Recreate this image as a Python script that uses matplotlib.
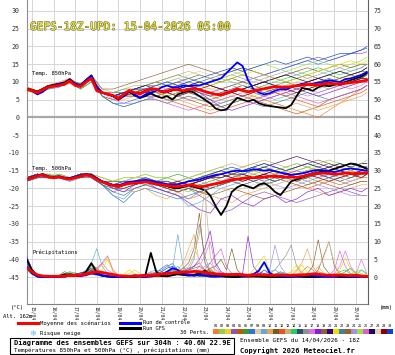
import matplotlib
matplotlib.use("Agg")
import matplotlib.pyplot as plt
import matplotlib.patheffects as pe
from matplotlib import font_manager
from matplotlib.lines import Line2D
from matplotlib.patches import Rectangle

# time axis: run 14/04 18Z, hours since start
hours_6h = list(range(0, 379, 6))
hours_12h = list(range(0, 373, 12)) + [378]
day_hours = [6 + 24 * k for k in range(16)]
day_labels = ["%02d/04" % d for d in range(15, 31)]

member_colors = ['#f08030', '#90d050', '#f0d020', '#9050c0', '#c05a00', '#3a9a30',
                 '#3070e0', '#e0c8a0', '#60a8e0', '#f0a050', '#706020', '#f05020',
                 '#c8b070', '#20d060', '#305070', '#909090', '#e070e0', '#8020e0',
                 '#906030', '#300080', '#e8e000', '#4080a0', '#a06020', '#a090f0',
                 '#a0e040', '#e060c0', '#200060', '#e0d0b0', '#900000', '#1040d0']

# ---- temperature 850 hPa (degC) ----
t850_mean = [8.0, 7.6, 7.0, 7.8, 8.6, 8.8, 9.0, 9.4, 10.3, 9.0, 8.7, 10.0, 11.0, 7.5, 7.0, 6.6,
             6.2, 5.3, 6.5, 7.6, 7.0, 6.6, 7.5, 8.0, 8.0, 7.2, 7.4, 7.9, 7.8, 7.5, 7.9, 8.2,
             7.8, 7.3, 6.9, 6.5, 6.4, 6.9, 7.4, 8.0, 7.6, 7.2, 7.5, 7.8, 8.1, 8.4, 8.7, 8.6,
             8.5, 8.7, 8.9, 9.1, 9.3, 9.2, 9.2, 9.4, 9.6, 9.5, 9.4, 9.6, 9.8, 10.0, 10.2, 10.5]
t850_control = [8.0, 7.5, 6.5, 7.2, 8.5, 9.0, 9.5, 9.2, 10.5, 9.5, 9.0, 10.5, 11.8, 8.5, 7.0, 6.5,
                6.0, 5.0, 6.0, 7.5, 6.5, 5.5, 6.5, 7.0, 7.5, 8.5, 9.0, 8.5, 8.5, 9.0, 8.8, 9.0,
                9.0, 9.5, 10.0, 10.5, 11.0, 12.5, 14.0, 15.5, 14.5, 10.5, 8.0, 7.0, 6.5, 6.8, 7.5, 8.0,
                7.8, 8.5, 9.0, 9.5, 9.2, 9.5, 9.8, 10.0, 10.5, 10.2, 10.0, 10.8, 11.0, 11.5, 12.0, 12.8]
t850_gfs = [8.0, 7.8, 7.2, 8.0, 8.8, 9.2, 9.5, 9.8, 10.8, 9.4, 9.0, 10.5, 11.8, 8.2, 7.0, 6.5,
            6.0, 5.0, 6.0, 7.2, 6.2, 5.5, 6.0, 6.8, 6.0, 5.5, 6.0, 5.0, 6.5, 7.0, 7.5, 7.0,
            6.0, 5.0, 4.0, 2.5, 2.0, 2.2, 4.0, 5.5, 5.0, 4.5, 5.0, 4.0, 3.5, 3.2, 3.0, 2.8,
            2.6, 3.5, 6.0, 8.3, 8.0, 7.5, 8.5, 9.0, 8.8, 9.2, 9.5, 10.0, 10.5, 11.0, 11.5, 12.5]
t850_members = [
    [8, 7, 9, 9, 10, 9, 11, 7, 6, 6, 7, 8, 7, 7, 8, 8, 7, 6, 5, 6, 7, 6, 5, 4, 3, 2, 1, 0, 2, 4, 6, 8, 9],
    [8.5, 7.5, 8.5, 9.5, 10.5, 9, 11.5, 8, 7, 7, 8, 9, 9, 8, 9, 10, 9, 8, 8, 9, 10, 9, 10, 11, 12, 11, 12, 13, 12, 13, 14, 15, 15],
    [7.5, 6.5, 9, 9, 10, 8, 10, 6, 5, 5, 6, 6, 6, 5, 5, 6, 5, 4, 3, 4, 5, 6, 7, 8, 9, 10, 11, 10, 9, 10, 11, 12, 12],
    [8, 7, 9, 9.5, 11, 9, 11.5, 7, 6, 7, 7, 8, 8, 9, 10, 9, 8, 7, 8, 9, 10, 11, 12, 13, 14, 15, 16, 17, 16, 17, 18, 18, 18.5],
    [8, 6.5, 8, 9, 10, 8, 11, 6, 5, 6, 7, 7, 8, 7, 6, 5, 4, 3, 4, 5, 6, 5, 4, 3, 2, 1, 2, 3, 5, 6, 7, 8, 9],
    [8.5, 7, 9, 9, 10.5, 9, 11, 7, 7, 8, 8, 9, 10, 11, 12, 11, 10, 9, 10, 11, 12, 11, 10, 9, 10, 11, 12, 11, 10, 11, 12, 13, 13],
    [8, 7.5, 8, 8.5, 10, 9.5, 11, 6, 4, 4, 5, 6, 6, 7, 8, 9, 10, 11, 12, 13, 14, 13, 12, 13, 14, 15, 16, 15, 16, 17, 18, 19, 19.5],
    [7.5, 7, 9, 9, 10, 9, 10.5, 7, 6, 7, 8, 8, 9, 8, 7, 8, 9, 8, 7, 6, 7, 8, 9, 8, 7, 8, 9, 10, 9, 8, 9, 10, 11],
    [8, 6.5, 8.5, 9, 10, 8, 10, 6, 4, 3, 4, 5, 6, 5, 6, 7, 6, 5, 4, 5, 6, 7, 6, 5, 6, 7, 8, 7, 8, 9, 10, 11, 11],
    [8, 7, 9, 10, 11, 9, 11, 7, 6, 7, 7, 8, 7, 6, 5, 4, 3, 2, 3, 4, 5, 6, 5, 4, 3, 4, 3, 2, 3, 4, 5, 6, 7],
    [8, 7.5, 9, 9, 10, 9.5, 11, 7, 7, 7, 8, 9, 10, 9, 10, 11, 12, 11, 10, 11, 10, 9, 10, 11, 10, 9, 10, 11, 12, 11, 12, 13, 14],
    [8, 7, 9, 9, 9.5, 9, 11, 7, 6, 6, 7, 7, 6, 5, 4, 3, 2, 1, 2, 3, 4, 5, 6, 7, 6, 5, 4, 3, 4, 5, 6, 7, 8],
    [8, 7, 9, 9.5, 10, 9, 11, 7, 7, 8, 9, 9, 10, 11, 12, 13, 12, 11, 12, 13, 12, 11, 10, 11, 12, 13, 12, 11, 12, 13, 12, 13, 14],
    [8, 7, 8, 9, 10, 8, 10, 7, 6, 6, 7, 8, 9, 10, 9, 8, 9, 10, 11, 10, 9, 8, 9, 10, 11, 12, 13, 14, 13, 12, 13, 14, 15],
    [8, 7, 9, 9, 10, 9, 11, 7, 6, 6, 6, 7, 7, 6, 7, 8, 7, 6, 7, 8, 9, 8, 7, 8, 9, 8, 9, 10, 11, 10, 11, 12, 12],
    [8.5, 7, 9, 9, 10, 9, 11, 7, 6, 7, 8, 8, 8, 9, 10, 11, 10, 9, 8, 9, 8, 7, 6, 7, 8, 9, 10, 9, 8, 9, 10, 11, 11],
    [8, 7, 9, 9, 10, 9, 11, 7, 5, 4, 4, 5, 6, 7, 6, 5, 6, 7, 8, 7, 6, 5, 6, 7, 8, 7, 6, 7, 8, 9, 8, 9, 10],
    [8, 7, 9, 9, 10, 9, 11, 7, 6, 6, 7, 7, 7, 8, 9, 8, 7, 5, 3, 2, 3, 4, 5, 6, 7, 8, 7, 6, 7, 8, 9, 10, 10],
    [8.5, 7.5, 9, 9.5, 10.5, 9.5, 12, 8, 8, 9, 10, 11, 12, 13, 14, 15, 14, 13, 12, 13, 14, 13, 12, 11, 12, 13, 14, 13, 14, 15, 14, 15, 15],
    [8, 7, 9, 9, 10, 9, 11, 7, 6, 7, 7, 7, 8, 7, 8, 9, 8, 7, 6, 7, 8, 9, 10, 9, 8, 9, 10, 11, 10, 9, 10, 11, 12],
    [8, 7, 9, 9, 10, 9, 11, 7, 6, 6, 7, 8, 8, 9, 8, 7, 8, 9, 10, 11, 12, 13, 12, 11, 10, 11, 12, 13, 14, 15, 16, 15, 16],
    [7.5, 7, 9, 9, 10, 9, 11, 6, 4, 3, 4, 5, 5, 4, 5, 6, 5, 4, 3, 4, 5, 4, 3, 4, 5, 6, 7, 6, 5, 6, 7, 8, 9],
    [8, 7, 9, 9, 10, 9, 11, 7, 6, 7, 8, 7, 6, 7, 8, 7, 6, 5, 6, 7, 8, 9, 8, 7, 6, 7, 8, 9, 10, 11, 12, 11, 12],
    [8, 7, 9, 9, 10, 9, 11, 7, 7, 7, 8, 9, 9, 10, 11, 10, 9, 10, 11, 12, 11, 10, 11, 12, 13, 12, 11, 12, 13, 14, 13, 14, 15],
    [8, 7, 9, 9, 10, 9, 11, 7, 6, 6, 7, 8, 7, 6, 7, 8, 9, 10, 11, 12, 13, 14, 15, 14, 13, 14, 15, 16, 15, 14, 15, 16, 17],
    [8, 7, 9, 9, 10, 9, 11, 7, 6, 6, 6, 6, 5, 4, 3, 2, 3, 4, 5, 6, 5, 4, 5, 6, 7, 6, 5, 4, 5, 6, 7, 8, 9],
    [8, 7, 9, 9, 10, 9, 11, 7, 6, 7, 8, 9, 8, 7, 8, 9, 10, 9, 8, 7, 8, 9, 10, 11, 12, 11, 10, 11, 12, 13, 12, 13, 14],
    [8, 7, 9, 9, 10, 9, 11, 7, 6, 6, 7, 8, 9, 10, 11, 12, 13, 12, 11, 10, 9, 10, 11, 10, 9, 10, 9, 8, 9, 10, 11, 12, 12],
    [8, 7, 9, 9, 10, 9, 11, 7, 6, 6, 7, 8, 8, 7, 6, 7, 8, 9, 8, 7, 6, 7, 8, 9, 8, 7, 8, 9, 10, 9, 10, 11, 11],
    [8, 7, 9, 9, 10, 9, 11, 7, 6, 7, 8, 8, 9, 10, 9, 10, 11, 12, 13, 14, 13, 14, 15, 16, 15, 16, 17, 16, 17, 18, 18, 19, 20],
]

# ---- temperature 500 hPa (degC) ----
t500_mean = [-17.5, -17.0, -16.5, -16.2, -16.8, -17.0, -16.8, -17.2, -17.4, -17.0, -16.6, -16.2, -16.6, -17.5, -18.2, -18.8,
             -19.2, -19.4, -19.0, -18.6, -18.5, -18.4, -18.2, -18.4, -18.8, -19.0, -19.2, -19.4, -19.5, -19.3, -19.0, -19.2,
             -19.6, -19.4, -19.0, -18.7, -18.4, -18.0, -17.6, -17.4, -17.2, -17.0, -17.0, -16.9, -16.8, -16.6, -16.6, -16.7,
             -16.8, -16.8, -16.9, -16.7, -16.3, -16.0, -15.8, -15.7, -15.8, -16.0, -15.9, -15.7, -15.8, -15.9, -15.7, -15.6]
t500_control = [-17.5, -17.0, -16.4, -16.0, -16.6, -17.0, -16.6, -17.0, -17.2, -16.8, -16.4, -16.0, -16.4, -17.2, -18.0, -18.5,
                -19.0, -19.2, -18.6, -18.2, -18.0, -17.8, -17.6, -17.8, -18.2, -18.5, -18.8, -19.0, -18.8, -18.5, -18.0, -17.8,
                -17.5, -17.0, -16.6, -16.2, -16.0, -15.6, -15.2, -15.0, -15.2, -15.0, -14.6, -14.8, -15.0, -14.8, -15.2, -15.6,
                -15.8, -16.2, -16.0, -15.8, -15.4, -15.0, -14.8, -15.0, -15.2, -15.4, -15.0, -14.6, -14.4, -14.6, -14.8, -15.0]
t500_gfs = [-17.5, -16.8, -16.4, -16.0, -16.6, -16.8, -16.6, -17.0, -17.2, -16.8, -16.4, -16.0, -16.4, -17.4, -18.2, -18.8,
            -19.2, -19.6, -19.0, -18.4, -18.2, -18.0, -17.8, -18.2, -18.6, -19.0, -19.4, -19.8, -20.0, -19.6, -19.2, -19.6,
            -20.0, -20.5, -22.0, -25.0, -27.5, -25.0, -21.0, -19.7, -19.0, -19.5, -20.0, -19.0, -18.5, -19.5, -21.0, -21.9,
            -20.0, -18.0, -17.5, -17.0, -16.5, -16.0, -15.5, -15.2, -15.0, -14.5, -14.0, -13.5, -13.0, -13.2, -13.8, -14.5]
t500_members = [
    [-17, -16, -17, -17, -17, -16, -16, -18, -19, -18, -18, -17, -18, -19, -21, -23, -22, -20, -19, -18, -17, -16, -17, -18, -17, -16, -17, -18, -17, -16, -15, -16, -16],
    [-17, -16, -17, -17, -17, -17, -16, -17, -18, -17, -17, -16, -17, -17, -18, -17, -16, -15, -14, -15, -14, -13, -14, -15, -14, -13, -14, -13, -12, -13, -14, -13, -13],
    [-18, -17, -17, -16, -17, -16, -17, -18, -19, -19, -18, -18, -19, -20, -19, -18, -19, -18, -17, -16, -17, -18, -17, -16, -17, -18, -17, -16, -15, -16, -17, -16, -15],
    [-17, -16, -17, -17, -18, -17, -16, -19, -21, -20, -19, -18, -19, -20, -21, -20, -22, -24, -27, -26, -24, -22, -21, -22, -23, -24, -23, -22, -21, -20, -21, -22, -22],
    [-18, -17, -16, -17, -17, -16, -16, -18, -19, -19, -18, -19, -20, -21, -20, -19, -18, -17, -18, -17, -16, -17, -18, -17, -16, -17, -18, -19, -18, -17, -16, -17, -16],
    [-17, -16, -17, -16, -17, -16, -16, -18, -20, -19, -18, -17, -18, -17, -16, -17, -18, -17, -16, -15, -16, -15, -14, -15, -16, -15, -14, -15, -14, -13, -14, -15, -14],
    [-17, -17, -17, -17, -17, -16, -17, -19, -22, -24, -21, -20, -21, -22, -23, -22, -21, -20, -19, -18, -17, -18, -17, -16, -17, -16, -15, -16, -17, -16, -15, -16, -15],
    [-17, -16, -17, -17, -17, -16, -16, -18, -19, -18, -18, -18, -19, -19, -20, -19, -18, -17, -16, -15, -14, -15, -16, -15, -16, -17, -16, -15, -16, -15, -14, -15, -15],
    [-18, -17, -17, -17, -18, -17, -16, -19, -22, -23, -20, -19, -20, -21, -22, -25, -24, -22, -20, -19, -18, -17, -18, -17, -18, -17, -18, -17, -16, -17, -18, -17, -17],
    [-17, -16, -17, -17, -17, -16, -17, -18, -19, -20, -21, -20, -22, -23, -21, -20, -21, -22, -23, -24, -22, -21, -20, -19, -18, -19, -20, -21, -22, -21, -20, -19, -19],
    [-17, -16, -17, -17, -17, -16, -16, -18, -18, -18, -17, -17, -18, -18, -19, -18, -17, -16, -15, -16, -15, -14, -15, -16, -15, -14, -13, -14, -13, -14, -15, -14, -14],
    [-18, -17, -17, -17, -17, -17, -16, -18, -19, -19, -19, -18, -18, -19, -18, -19, -20, -19, -18, -17, -18, -17, -16, -17, -18, -19, -20, -19, -18, -19, -18, -17, -17],
    [-17, -16, -17, -17, -17, -16, -16, -17, -18, -18, -17, -17, -18, -19, -18, -17, -16, -15, -14, -13, -14, -13, -12, -13, -14, -13, -14, -15, -14, -13, -14, -13, -13],
    [-17, -16, -16, -17, -17, -16, -16, -18, -19, -18, -18, -17, -18, -19, -20, -21, -19, -18, -17, -16, -17, -16, -17, -18, -17, -16, -15, -16, -15, -16, -15, -14, -14],
    [-18, -17, -17, -17, -17, -17, -17, -19, -20, -20, -19, -18, -19, -20, -21, -20, -19, -20, -19, -18, -19, -18, -17, -18, -17, -18, -17, -16, -17, -18, -17, -16, -16],
    [-17, -16, -17, -16, -17, -16, -16, -18, -20, -21, -20, -19, -20, -21, -22, -23, -21, -20, -19, -18, -19, -20, -19, -18, -17, -18, -19, -18, -17, -18, -19, -18, -18],
    [-17, -16, -17, -17, -17, -16, -16, -18, -19, -18, -18, -18, -19, -18, -19, -18, -17, -16, -17, -16, -15, -16, -15, -14, -15, -16, -15, -14, -15, -14, -15, -14, -14],
    [-17, -16, -17, -17, -17, -16, -17, -18, -20, -21, -19, -18, -20, -21, -22, -24, -26, -27, -23, -22, -24, -25, -23, -22, -24, -23, -21, -20, -22, -21, -20, -21, -20],
    [-17, -16, -17, -17, -17, -16, -16, -18, -18, -18, -18, -17, -18, -18, -19, -18, -17, -16, -15, -16, -15, -14, -13, -14, -15, -14, -13, -12, -13, -14, -13, -14, -14],
    [-17, -16, -17, -17, -17, -16, -16, -18, -19, -19, -18, -18, -19, -19, -20, -19, -18, -17, -16, -17, -16, -15, -14, -13, -12, -11, -12, -13, -14, -13, -14, -13, -13],
    [-17, -16, -17, -17, -17, -16, -16, -18, -19, -19, -18, -17, -18, -18, -19, -18, -17, -16, -17, -16, -17, -16, -15, -16, -15, -16, -15, -14, -15, -16, -15, -16, -15],
    [-18, -17, -17, -17, -17, -16, -17, -19, -21, -22, -20, -19, -19, -20, -19, -20, -21, -20, -19, -18, -17, -18, -19, -18, -17, -18, -17, -16, -17, -16, -17, -16, -16],
    [-17, -16, -17, -17, -17, -16, -16, -18, -19, -19, -18, -18, -19, -20, -21, -20, -21, -22, -21, -20, -21, -22, -23, -22, -21, -20, -19, -18, -19, -20, -19, -18, -18],
    [-17, -16, -17, -17, -17, -16, -16, -18, -19, -19, -18, -17, -18, -19, -18, -17, -18, -19, -18, -17, -18, -17, -18, -19, -20, -19, -18, -19, -20, -21, -22, -22, -22],
    [-17, -16, -16, -16, -17, -16, -16, -17, -18, -17, -17, -16, -17, -17, -18, -17, -16, -17, -18, -17, -16, -15, -16, -15, -14, -15, -14, -15, -16, -15, -14, -13, -12],
    [-17, -16, -17, -17, -17, -16, -16, -18, -19, -18, -18, -18, -19, -19, -18, -19, -18, -17, -18, -17, -16, -17, -16, -15, -16, -15, -16, -17, -16, -15, -16, -15, -15],
    [-17, -16, -17, -17, -17, -16, -16, -18, -19, -19, -18, -18, -19, -19, -20, -19, -18, -17, -17, -16, -16, -17, -16, -15, -16, -17, -16, -15, -14, -15, -16, -15, -15],
    [-17, -16, -17, -17, -17, -16, -17, -18, -19, -18, -17, -17, -18, -19, -20, -21, -20, -19, -20, -21, -20, -19, -18, -19, -18, -17, -18, -19, -18, -17, -18, -17, -17],
    [-17, -16, -17, -17, -17, -16, -16, -18, -19, -19, -18, -18, -18, -19, -18, -19, -18, -17, -16, -17, -18, -17, -16, -17, -16, -17, -16, -17, -18, -17, -16, -17, -16],
    [-17, -16, -17, -17, -17, -16, -16, -18, -19, -18, -18, -17, -18, -18, -19, -18, -17, -16, -15, -14, -15, -14, -13, -14, -15, -14, -13, -14, -15, -14, -13, -14, -14],
]

# ---- precipitation (mm) ----
precip_mean = [2.5, 1.5, 0.6, 0.3, 0.2, 0.2, 0.2, 0.3, 0.5, 0.4, 0.6, 0.9, 1.2, 1.5, 1.3, 1.0,
               0.7, 0.4, 0.3, 0.2, 0.3, 0.4, 0.4, 0.5, 0.7, 0.9, 1.0, 1.2, 1.3, 1.4, 1.4, 1.6,
               1.5, 1.3, 1.0, 0.9, 0.8, 0.7, 0.7, 0.8, 0.6, 0.5, 0.6, 0.7, 0.6, 0.5, 0.5, 0.6,
               0.5, 0.5, 0.6, 0.6, 0.7, 0.9, 0.8, 0.6, 0.5, 0.5, 0.6, 0.5, 0.4, 0.5, 0.3, 0.2]
precip_control = [3.0, 1.0, 0.2, 0, 0, 0, 0, 0.3, 0.8, 0.5, 0.3, 0.6, 1.0, 0.8, 0.4, 0.2,
                  0.1, 0, 0, 0.2, 0.5, 0.2, 0, 0.3, 0.5, 0.8, 1.5, 2.5, 2.0, 1.0, 0.5, 0.4,
                  0.6, 0.4, 0.2, 0.1, 0.3, 0.5, 0.8, 0.6, 0.3, 0.5, 0.8, 1.8, 4.2, 1.2, 0.3, 0.2,
                  0.1, 0.2, 0.3, 0.4, 0.5, 0.3, 0.2, 0.1, 0.1, 0.2, 0.4, 0.2, 0.1, 0.1, 0.2, 0.1]
precip_gfs = [5.0, 2.0, 0.3, 0, 0, 0, 0.2, 0.8, 0.6, 0.3, 0.4, 1.5, 3.9, 1.2, 0.4, 0.2,
              0, 0, 0, 0, 0, 0.3, 0.6, 6.8, 1.5, 0.3, 0.2, 0.5, 0.8, 0.6, 0.4, 0.6,
              1.0, 1.8, 0.6, 0.3, 0.2, 0.1, 0, 0, 0.2, 0.4, 0.3, 0.2, 0.1, 0, 0, 0,
              0, 0.1, 0.2, 0.1, 0, 0, 0.1, 0.3, 0.5, 0.2, 0.1, 0, 0, 0.1, 0.2, 0.1]
precip_members = [
    [4, 1, 0, 0, 0, 0, 0, 0, 0.5, 0.3, 0, 0.5, 1.5, 0.8, 0.3, 0, 0, 0, 0, 0, 0, 0, 0.5, 1, 0.5, 0.3, 0.8, 1.2, 2, 1, 0.5, 0.3, 0.5, 1, 2.5, 1, 0.3, 0, 0, 0, 0, 0, 0.3, 0.5, 0.2, 0, 0, 0, 0, 0, 0.5, 1.5, 3, 2, 0.5, 0.3, 0.5, 1, 0.6, 0.3, 0, 0, 0, 0],
    [3, 1.5, 0.2, 0, 0, 0, 0, 0.5, 1, 0.5, 0.2, 1, 3, 1.5, 0.5, 0, 0, 0, 0, 0, 0.2, 0.5, 0.3, 0, 0.3, 1, 1.5, 2, 1.5, 0.8, 0.5, 0.3, 0.2, 0.5, 1, 0.5, 0, 0, 0, 0.3, 0.6, 0.3, 0, 0, 0, 0, 0.5, 0.8, 0.5, 0.3, 0, 0, 0, 0, 0, 0, 0, 0, 0, 0.3, 0.8, 1.5, 2, 1],
    [2, 0.8, 0, 0, 0, 0, 0, 0, 0.3, 0.2, 0, 0.4, 1, 2, 3.5, 5.5, 1.5, 0.5, 0.5, 1, 2, 1, 0.3, 0, 0, 0, 0.2, 0.5, 0.8, 1.5, 2.5, 1.5, 0.5, 0.2, 0, 0, 0, 0, 0, 0, 0, 0, 0, 0, 0.5, 1, 0.5, 0, 0, 0.5, 1.5, 3.5, 1.2, 0.3, 0, 0, 0, 0.2, 0.5, 1, 0.5, 0, 0, 0],
    [5, 2, 0.3, 0, 0, 0, 0, 0, 0.4, 0.8, 0.5, 0.3, 1, 0.8, 0.4, 0.2, 0, 0, 0, 0, 0, 0.3, 0.8, 1.2, 1, 0.5, 0.3, 0.6, 1, 1.8, 2.5, 3, 4, 2, 1, 0.5, 0.3, 0.2, 0, 0, 0, 0.3, 0.5, 0.3, 0, 0, 0, 0, 0.2, 0.4, 0.3, 0, 0, 0, 0.3, 0.6, 0.3, 0, 0, 0, 0, 0, 0, 0],
    [3.5, 1.2, 0.2, 0, 0, 0, 0, 0.2, 0.8, 1.2, 0.5, 1.5, 2.5, 1.2, 0.5, 0.2, 0, 0, 0, 0, 0, 0, 0.2, 0.5, 0.8, 0.6, 0.5, 1, 1.5, 1, 0.5, 0.5, 1, 1.5, 2, 1, 0.5, 0.2, 0, 0, 0.2, 0.5, 0.8, 0.5, 0.2, 0, 0, 0, 0, 0, 0.3, 0.5, 0.8, 0.5, 0.3, 0, 0, 0, 0, 0, 0.2, 0.5, 0.3, 0],
    [2.5, 1, 0.2, 0, 0, 0, 0, 0.5, 1.5, 1, 0.5, 1, 3.5, 2.5, 1, 0.3, 0, 0, 0, 0, 0, 0, 0, 0.3, 0.5, 0.3, 0.5, 1, 1.5, 2, 1, 0.5, 0.3, 0.2, 0, 0, 0, 0, 0.3, 0.5, 0.3, 0, 0, 0, 0, 0.3, 0.8, 1.2, 0.8, 0.3, 0, 0, 0, 0, 0, 0, 0, 0, 0.5, 1.5, 2.5, 1, 0.5, 0.3],
    [4.5, 1.5, 0.3, 0, 0, 0, 0, 0, 0.3, 0.5, 0.3, 0.5, 0.8, 0.5, 0.2, 0, 0, 0, 0, 0, 0, 0, 0.3, 0.8, 1.5, 2, 3, 3.8, 2, 1, 0.5, 0.3, 0.5, 0.8, 0.5, 0.2, 0, 0, 0, 0, 0, 0.5, 1, 1.5, 1, 0.5, 0.3, 0, 0, 0, 0, 0.3, 0.5, 0.3, 0, 0, 0, 0, 0, 0, 0, 0.3, 0.5, 0.3],
    [3, 1, 0, 0, 0, 0, 0, 0, 0.2, 0.3, 0, 0.2, 0.8, 0.5, 0.2, 0, 0, 0, 0, 0, 0, 0, 0, 0, 0.3, 0.5, 0.8, 1, 0.5, 0.3, 0.5, 1, 1.5, 1, 0.5, 0.3, 0, 0, 0, 0, 0, 0, 0, 0, 0, 0, 0.3, 0.5, 0.8, 1.5, 2, 1, 0.5, 0.3, 0, 0, 0, 0, 0, 0, 0, 0, 0, 0],
    [6, 2, 0.3, 0, 0, 0, 0, 0, 0.5, 0.8, 1, 2, 4, 8, 3, 1, 0.3, 0, 0, 0, 0, 0.3, 0.8, 1.5, 2, 1.5, 1, 2, 12, 3, 1, 0.5, 0.3, 0.5, 0.8, 0.5, 0.3, 0, 0, 0, 0, 0, 0.3, 0.5, 0.8, 1.5, 2, 1, 0.5, 0.3, 0, 0, 0, 0, 0, 0, 0, 0, 0, 0, 0, 0, 0, 0],
    [3.5, 1.5, 0.2, 0, 0, 0, 0, 0, 0.3, 0.5, 0.3, 0.8, 1.5, 1, 0.3, 0, 0, 0, 0, 0, 0, 0, 0, 0.2, 0.5, 0.3, 0.5, 1, 2, 4, 8, 12, 4, 1, 0.5, 0.3, 0, 0, 0, 0, 0, 0, 0, 0, 0.3, 0.5, 0.3, 0, 0, 0.5, 2, 4, 8, 3, 1, 0.5, 0.3, 0, 0, 0, 0, 0, 0, 0],
    [2.5, 1, 0, 0, 0, 0, 0.5, 1.5, 1, 0.5, 0.3, 1.5, 4, 2, 0.5, 0.2, 0, 0, 0, 0, 0, 0, 0, 0.3, 0.5, 0.3, 0.2, 0.5, 1, 1.5, 1, 0.5, 0.8, 1.5, 2.5, 3, 5, 2, 8, 2, 0.5, 0.3, 0, 0, 0, 0, 0, 0, 0, 0, 0, 0, 0.3, 0.5, 0.3, 0, 0, 0, 0, 0, 0, 0, 0.3, 0.5],
    [4, 1.5, 0.3, 0, 0, 0, 0, 0, 0.2, 0.4, 0.3, 0.6, 1.2, 0.8, 0.3, 0, 0, 0, 0, 0, 0, 0, 0, 0, 0.2, 0.5, 0.8, 1.2, 1.5, 1, 0.8, 0.5, 0.3, 0.2, 0, 0, 0, 0, 0.3, 0.8, 1, 0.5, 0.3, 0, 0, 0, 0, 0, 0, 0, 0, 0, 0.5, 1, 1.5, 1, 0.5, 0.3, 0, 0, 0, 0, 0, 0],
    [3, 1, 0, 0, 0, 0, 0, 0, 0.3, 0.2, 0.2, 0.8, 1.8, 1, 0.4, 0, 0, 0, 0, 0, 0, 0, 0.3, 0.6, 0.8, 0.5, 0.3, 0.6, 1, 2, 3, 6, 12, 25, 6, 1, 0.5, 0.3, 0, 0, 0, 0, 0, 0, 0, 0, 0, 0, 0, 0, 0, 0, 0.3, 1, 3, 1, 0.5, 0.3, 0, 0, 0, 0, 0, 0],
    [2, 0.8, 0, 0, 0, 0, 0.3, 0.8, 1.2, 0.6, 0.3, 0.8, 2, 1.2, 0.5, 0.2, 0, 0, 0, 0, 0, 0, 0, 0, 0.3, 0.5, 1, 2, 3, 1.5, 0.8, 0.5, 0.3, 0.2, 0, 0, 0, 0, 0, 0, 0, 0.2, 0.5, 0.3, 0, 0, 0, 0, 0, 0, 0, 0, 0, 0, 0.3, 0.5, 0.3, 0.5, 1.5, 2, 0.8, 0.5, 2, 0.8],
    [3, 1, 0.2, 0, 0, 0, 0, 0.3, 0.5, 0.3, 0.2, 0.5, 1.5, 1, 0.5, 0.2, 0, 0, 0, 0, 0, 0, 0.2, 0.5, 0.3, 0.2, 0.5, 0.8, 1.2, 0.8, 0.5, 0.8, 1.2, 1, 0.5, 0.2, 0, 0, 0, 0, 0, 0, 0, 0, 0, 0, 0, 0, 0.2, 0.5, 0.3, 0, 0, 0, 0, 0, 0, 0, 0.2, 0.5, 0.3, 0, 0, 0],
    [5, 1.5, 0.3, 0, 0, 0, 0, 0, 0.3, 0.5, 0.3, 0.8, 2, 1.5, 0.5, 0.2, 0, 0, 0, 0, 0, 0.3, 0.6, 0.8, 0.5, 0.3, 0.5, 1, 1.5, 1, 2, 5, 15, 6, 1.5, 0.8, 0.5, 0.3, 0.2, 0, 0, 0, 0, 0.3, 0.5, 1, 2, 4, 6, 9, 3, 1, 0.5, 0.3, 0, 0, 0, 0, 0, 0, 0, 0, 0, 0],
    [4, 1.5, 0.3, 0, 0, 0, 0, 0, 0.2, 0.5, 0.8, 1, 1.5, 2, 4, 2, 1, 0.5, 0, 0, 0, 0, 0, 0.3, 0.5, 0.3, 0.2, 0.5, 0.8, 1, 0.8, 1.5, 3, 6, 10, 3, 1, 0.5, 0.3, 0.2, 0.3, 0.5, 0.8, 0.5, 0.3, 0, 0, 0, 0, 0, 0, 0, 0, 0, 0, 0.3, 0.5, 1, 3, 7.4, 3, 1, 5, 1],
    [6, 2, 0.5, 0, 0, 0, 0, 0, 0.3, 0.5, 0.8, 1.5, 2.5, 1.5, 0.8, 0.3, 0, 0, 0, 0, 0, 0, 0, 0, 0.2, 0.3, 0.5, 0.8, 1, 1.5, 2, 3, 5, 8, 13, 4, 1.5, 0.8, 0.5, 0.3, 1, 11.5, 3, 1, 0.5, 0.3, 0, 0, 0, 0, 0, 0, 0, 0, 0, 0, 0, 0, 0, 0, 0, 0, 0, 0],
    [3, 1, 0.2, 0, 0, 0, 0, 0, 0.3, 0.2, 0.3, 0.8, 1.5, 1, 0.3, 0, 0, 0, 0, 0, 0, 0, 0.3, 0.8, 1, 0.8, 0.5, 1, 1.5, 2.5, 4, 8, 18, 4, 1.5, 0.5, 0.3, 0, 0, 0, 0, 0, 0, 0, 0, 0, 0.3, 0.5, 0.3, 0, 0, 0.3, 1, 3, 10.5, 3, 1, 0.5, 0.3, 0, 0, 0, 0, 0],
    [4, 1.5, 0.2, 0, 0, 0, 0, 0, 0.3, 0.8, 1.2, 1.5, 2.5, 1.5, 0.5, 0.2, 0, 0, 0, 0, 0, 0, 0.2, 0.5, 0.8, 0.5, 0.3, 0.5, 0.8, 1, 0.8, 0.5, 0.3, 0.5, 0.8, 0.5, 0.2, 0, 0, 0, 0, 0, 0.3, 0.5, 0.8, 0.5, 0.2, 0, 0, 0, 0, 0, 0, 0, 0, 0, 0, 0, 0, 0, 0.2, 0.3, 0.2, 0],
    [3, 1, 0.2, 0, 0, 0, 0, 0, 0.2, 0.3, 0.5, 1, 2, 1.5, 2, 5, 1.5, 0.5, 0.8, 2, 1, 0.3, 0, 0, 0.3, 0.5, 0.8, 1, 1.2, 1, 0.8, 1, 1.5, 2, 1.5, 1, 0.5, 0.3, 0.2, 0, 0, 0.5, 2, 4, 6, 2, 0.5, 0.3, 0.5, 1.5, 3.5, 1.5, 0.5, 0.3, 0, 0, 0, 0.5, 2, 5.4, 2, 0.5, 0.3, 0],
    [3.5, 1.2, 0.2, 0, 0, 0, 0, 0, 0.3, 0.5, 0.8, 1.2, 2, 1, 0.5, 0.2, 0, 0, 0, 0, 0, 0, 0.3, 0.8, 1.2, 2.5, 3.5, 2, 1.5, 1, 0.8, 0.5, 0.3, 0.2, 0, 0, 0, 0, 0, 0, 0, 0, 0, 0, 0, 0.3, 0.8, 1.5, 1, 0.5, 0.3, 0, 0, 0, 0, 0, 0, 0, 0, 0, 0, 0, 0, 0],
    [2.5, 1, 0, 0, 0, 0, 0, 0, 0.2, 0.3, 0.2, 0.5, 1.2, 0.8, 0.3, 0, 0, 0, 0, 0, 0, 0, 0, 0.3, 0.5, 0.3, 0.2, 0.5, 1, 1.5, 2, 2.5, 3, 2, 1.5, 1, 0.8, 0.5, 0.3, 0.2, 0, 0, 0, 0, 0, 0, 0, 0, 0, 0, 0, 0, 0, 0.5, 2, 6, 10, 3, 1, 0.5, 0.3, 0, 0, 0],
    [4, 1.5, 0.3, 0, 0, 0, 0, 0, 0.3, 0.6, 0.8, 1, 1.5, 2, 1, 0.5, 0.2, 0, 0, 0, 0, 0, 0, 0.2, 0.3, 0.5, 0.8, 1, 1.5, 2.5, 2, 1.5, 2, 3, 4, 2, 1, 0.5, 0.3, 0.2, 0, 0, 0, 0, 0.5, 2, 9, 3, 1, 0.5, 0.3, 0, 0, 0, 0, 0, 0, 0, 0, 0, 0, 0, 0, 0],
    [2.5, 1, 0, 0, 0, 0, 0.3, 0.8, 1.5, 0.8, 0.3, 0.8, 2.5, 1.5, 0.5, 0.2, 0, 0, 0, 0, 0, 0, 0, 0, 0.3, 0.5, 0.5, 0.8, 1, 0.8, 0.5, 0.3, 0.5, 0.8, 0.5, 0.3, 0, 0, 0, 0, 0, 0, 0, 0, 0, 0, 0, 0, 0, 0, 0, 0, 0, 0, 0, 0, 0, 0, 0, 0.3, 0.8, 1.5, 1, 0.5],
    [5, 1.5, 0.3, 0, 0, 0, 0, 0, 0.2, 0.5, 0.3, 0.8, 1.5, 2.5, 4, 6, 2, 0.5, 0.2, 0, 0, 0, 0, 0, 0.2, 0.3, 0.5, 0.8, 1, 1.2, 1, 0.8, 1, 2, 4, 6, 8, 3, 1, 0.5, 0.3, 0.2, 0, 0, 0, 0, 0, 0, 0, 0, 0, 0, 0, 0, 0, 0, 0.5, 2, 7.4, 3, 1, 0.5, 0.3, 0],
    [3, 1, 0, 0, 0, 0, 0, 0, 0.2, 0.4, 0.3, 0.6, 1.2, 0.8, 0.3, 0, 0, 0, 0, 0, 0, 0, 0, 0.2, 0.3, 0.2, 0.3, 0.5, 0.8, 0.6, 0.5, 0.3, 0.5, 0.8, 0.5, 0.3, 0.2, 0, 0, 0, 0, 0, 0, 0, 0, 0, 0, 0, 0, 0, 0, 0, 0, 0, 0, 0, 0, 0, 0, 0, 0, 0, 0, 0],
    [3.5, 1.2, 0.2, 0, 0, 0, 0, 0, 0.3, 0.2, 0.2, 0.6, 1.2, 0.8, 0.3, 0, 0, 0, 0, 0, 0, 0, 0.3, 0.8, 1, 0.8, 0.5, 1, 1.5, 3, 6, 9, 4, 1.5, 0.5, 0.3, 0, 0, 0, 0, 0, 0, 0, 0, 0, 0, 0, 0, 0, 0, 0, 0, 0.5, 1, 3, 5, 10, 4, 1, 0.5, 0.2, 0, 0, 0],
    [3, 1, 0.2, 0, 0, 0, 0, 0, 0.2, 0.3, 0.3, 0.8, 1.5, 1, 0.4, 0.2, 0, 0, 0, 0, 0, 0, 0, 0, 0.2, 0.3, 0.5, 0.8, 1.2, 1, 0.8, 0.6, 0.8, 1, 0.8, 0.5, 0.3, 0.2, 0, 0, 0, 0, 0, 0, 0, 0, 0, 0, 0, 0, 0, 0, 0, 0, 0, 0, 0, 0, 0, 0, 0, 0, 0, 0],
    [4, 1.5, 0.3, 0, 0, 0, 0, 0, 0.3, 0.5, 0.5, 1, 2, 1.2, 0.5, 0.2, 0, 0, 0, 0, 0, 0, 0.2, 0.5, 0.8, 1.5, 2.5, 3, 2, 1, 0.8, 0.5, 0.6, 1, 1.5, 1, 0.5, 0.3, 0.2, 0, 0, 0, 0.3, 0.8, 2, 1, 0.5, 0.3, 0.2, 0, 0, 0, 0, 0, 0, 0, 0, 0, 0, 0, 0, 0, 0, 0],
]

W, H = 395, 355
MONO = 'DejaVu Sans Mono'
plt.rcParams['axes.unicode_minus'] = False

fig = plt.figure(figsize=(W / 100, H / 100), dpi=100)
fig.patch.set_facecolor('white')

def fx(x):
    return x / W

def fy(y):
    return 1 - y / H

ax = fig.add_axes([fx(26.6), fy(304), (368 - 26.6) / W, 304 / H])
ax.set_xlim(0, 379.3)
ax.set_ylim(-52.6, 33.1)
ax2 = ax.twinx()
ax2.set_ylim(-52.6 + 45, 33.1 + 45)

# grid
for v in range(-45, 31, 5):
    ax.axhline(v, color='#d6d6d6', lw=0.7, zorder=0)
for h in day_hours:
    ax.axvline(h, color='#d6d6d6', lw=0.7, zorder=0)
ax.axhline(0, color='#a8a8a8', lw=1.6, zorder=0.5)

# ensemble members
for i, c in enumerate(member_colors):
    ax.plot(hours_12h, t850_members[i], color=c, lw=0.45, zorder=2)
    ax.plot(hours_12h, t500_members[i], color=c, lw=0.45, zorder=2)
    ax2.plot(hours_6h, precip_members[i], color=c, lw=0.45, zorder=2)

# GFS, control, mean
ax.plot(hours_6h, t850_gfs, color='black', lw=1.3, zorder=3)
ax.plot(hours_6h, t500_gfs, color='black', lw=1.3, zorder=3)
ax2.plot(hours_6h, precip_gfs, color='black', lw=1.3, zorder=3)
ax.plot(hours_6h, t850_control, color='#0000ff', lw=1.3, zorder=3.5)
ax.plot(hours_6h, t500_control, color='#0000ff', lw=1.3, zorder=3.5)
ax2.plot(hours_6h, precip_control, color='#0000ff', lw=1.3, zorder=3.5)
ax.plot(hours_6h, t850_mean, color='#ff0000', lw=2.0, zorder=4)
ax.plot(hours_6h, t500_mean, color='#ff0000', lw=2.0, zorder=4)
ax2.plot(hours_6h, precip_mean, color='#ff0000', lw=2.0, zorder=4)

# axes styling
ax.set_yticks(range(-45, 31, 5))
ax2.set_yticks(range(0, 76, 5))
ax.set_xticks(day_hours)
ax.set_xticklabels(day_labels, rotation=-90, fontsize=3.4, family=MONO, color='#222222')
ax.tick_params(axis='x', length=0, pad=1.5)
ax.tick_params(axis='y', length=0, pad=5, labelsize=4.8, labelcolor='#333333')
ax2.tick_params(axis='y', length=0, pad=4, labelsize=4.8, labelcolor='#333333')
for lab in ax.get_yticklabels() + ax2.get_yticklabels():
    lab.set_family(MONO)
ax.spines['top'].set_visible(False)
ax2.spines['top'].set_visible(False)
ax2.spines['left'].set_visible(False)
ax2.spines['bottom'].set_visible(False)
ax.spines['left'].set_color('#909090')
ax.spines['bottom'].set_color('#808080')
ax.spines['right'].set_visible(False)
ax2.spines['right'].set_color('#606060')

# panel labels
ax.text(6, 12.5, 'Temp. 850hPa', fontsize=3.9, family=MONO, va='center')
ax.text(6, -14.3, 'Temp. 500hPa', fontsize=3.9, family=MONO, va='center')
ax.text(6, -38.0, 'Précipitations', fontsize=3.9, family=MONO, va='center')

# run title
names = {f.name for f in font_manager.fontManager.ttflist}
title_font = 'Liberation Sans Narrow' if 'Liberation Sans Narrow' in names else MONO
title_size = 10 if title_font != MONO else 8
fig.text(fx(30), fy(27), 'GEFS-18Z-UPD: 15-04-2026 05:00', family=title_font, fontsize=title_size,
         color='#f4ec30', va='center',
         path_effects=[pe.withStroke(linewidth=0.8, foreground='#6a6a40')])

# axis unit labels
fig.text(fx(11), fy(307), '(°C)', fontsize=4.0, family=MONO, va='center')
fig.text(fx(3), fy(316), 'Alt. 162m', fontsize=4.0, family=MONO, va='center')
fig.text(fx(380), fy(308), '(mm)', fontsize=4.0, family=MONO, va='center')

# legend
fig.add_artist(Line2D([fx(18), fx(38)], [fy(323), fy(323)], color='#ff0000', lw=2.2))
fig.text(fx(40), fy(323), 'Moyenne des scénarios', fontsize=4.1, family=MONO, va='center')
fig.add_artist(Line2D([fx(120), fx(140)], [fy(323), fy(323)], color='#0000ff', lw=2.2))
fig.text(fx(143), fy(323), 'Run de contrôle', fontsize=3.8, family=MONO, va='center')
fig.add_artist(Line2D([fx(120), fx(140)], [fy(328), fy(328)], color='black', lw=2.2))
fig.text(fx(143), fy(328), 'Run GFS', fontsize=3.8, family=MONO, va='center')
fig.text(fx(29), fy(334), '\u2744', fontsize=6, color='#70b8f0', va='center', family='DejaVu Sans')
fig.text(fx(40), fy(334), 'Risque neige', fontsize=4.1, family=MONO, va='center')
fig.text(fx(180), fy(332), '30 Perts.', fontsize=3.9, family=MONO, va='center')
for i, c in enumerate(member_colors):
    x0 = 213 + 6 * i
    fig.add_artist(Rectangle((fx(x0), fy(334)), 6 / W, 5 / H, color=c, lw=0))
    fig.text(fx(x0 + 3), fy(326), '%02d' % (i + 1), fontsize=2.6, family=MONO,
             ha='center', va='center')

# info box
fig.add_artist(Rectangle((fx(10), fy(354)), 224 / W, 16 / H, facecolor='white',
                         edgecolor='black', lw=0.8))
fig.text(fx(14), fy(342.5), 'Diagramme des ensembles GEFS sur 304h : 40.6N 22.9E',
         fontsize=5.0, family=MONO, weight='bold', va='center')
fig.text(fx(14), fy(350.5), 'Températures 850hPa et 500hPa (°C) , précipitations (mm)',
         fontsize=4.2, family=MONO, va='center')
fig.text(fx(240), fy(340.5), 'Ensemble GEFS du 14/04/2026 - 18Z', fontsize=4.3, family=MONO, va='center')
fig.text(fx(240), fy(350.5), 'Copyright 2026 Meteociel.fr', fontsize=5.0, family=MONO,
         weight='bold', va='center')

fig.savefig('out.png', dpi=100)
